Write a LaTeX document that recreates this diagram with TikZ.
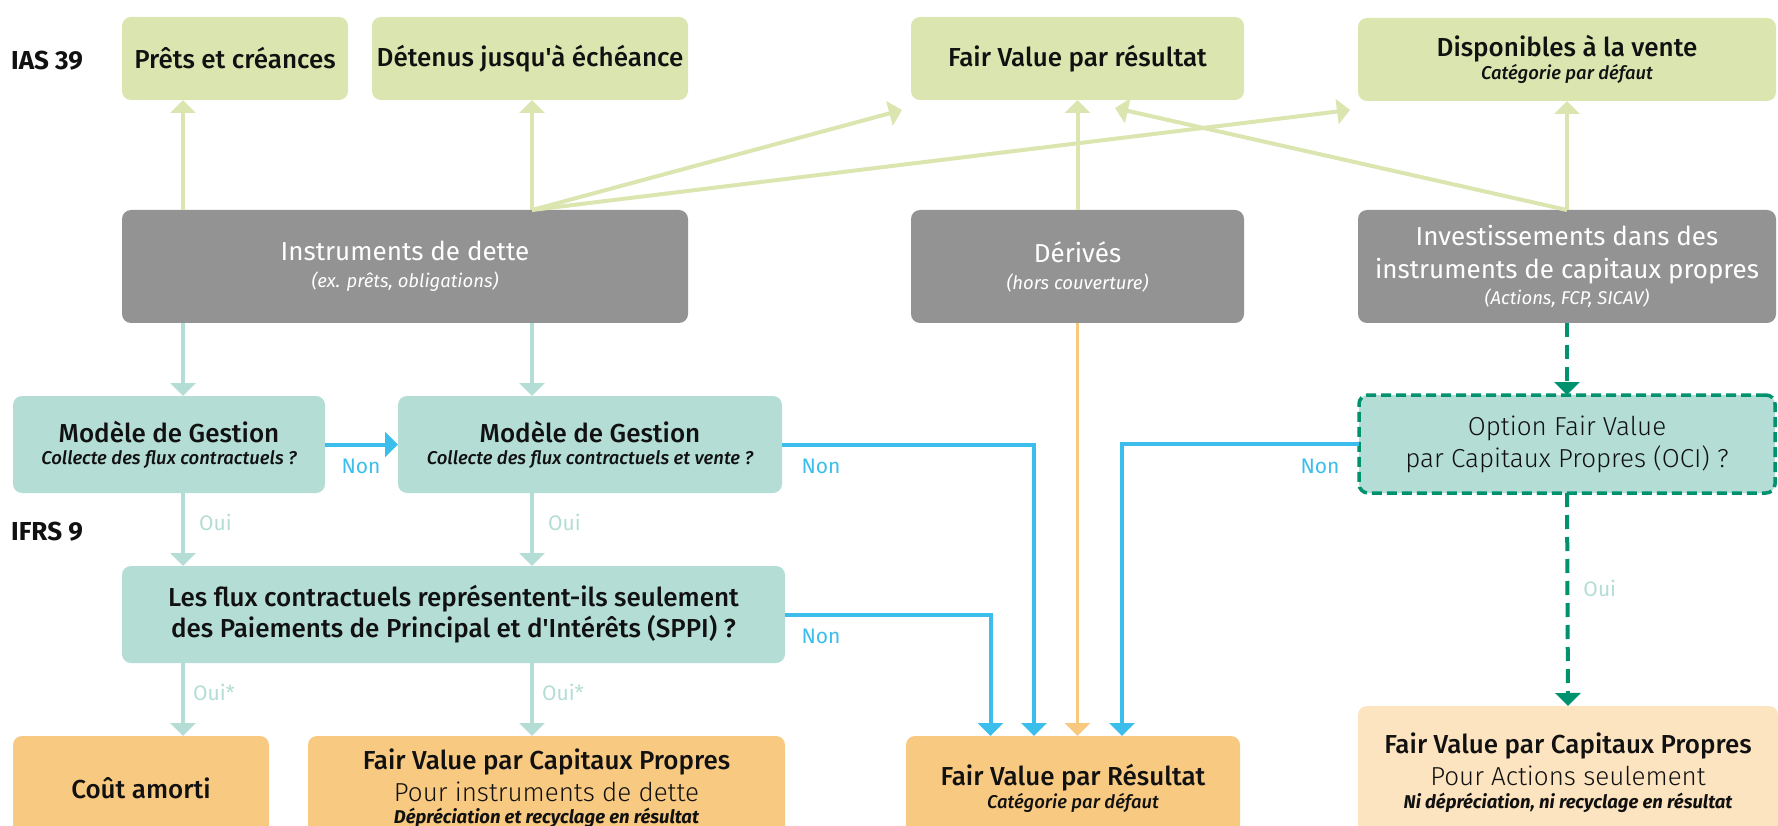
\documentclass[tikz,border=0pt]{standalone}
\usepackage{fontspec}
\setmainfont{Fira Sans}
\newfontfamily\fmed{Fira Sans Medium}
\newfontfamily\flight{Fira Sans Light}
\usetikzlibrary{arrows.meta}
\definecolor{iasg}{HTML}{DAE5B0}
\definecolor{greyc}{HTML}{939393}
\definecolor{tealc}{HTML}{B3DDD5}
\definecolor{orc}{HTML}{F8C980}
\definecolor{lorc}{HTML}{FDE4C0}
\definecolor{bluec}{HTML}{3BBEEC}
\definecolor{orline}{HTML}{F7C87E}
\definecolor{dgreen}{HTML}{00916F}
\definecolor{txt}{HTML}{111111}
\newcommand\bxTitle{\fmed\fontsize{26}{0}\selectfont}
\newcommand\bxReg{\fontsize{26}{0}\selectfont}
\newcommand\bxLight{\flight\fontsize{26}{0}\selectfont}
\newcommand\bxIt{\fontsize{18.5}{0}\selectfont\itshape}
\newcommand\bxMedIt{\fmed\fontsize{18.5}{0}\selectfont\itshape}
\newcommand\bxBoldIt{\bfseries\fontsize{18.5}{0}\selectfont\itshape}
\tikzset{
  box/.style={rounded corners=9pt, inner sep=0pt, outer sep=0pt, align=center, text=txt,
    font={\fontsize{26}{0}\selectfont\lineskiplimit=-1000pt\lineskip=0pt}},
  iasbox/.style={box, fill=iasg, minimum height=83pt},
  greybox/.style={box, fill=greyc, text=white, minimum height=113pt},
  tealbox/.style={box, fill=tealc, minimum height=97pt},
  ocibox/.style={box, fill=tealc, draw=dgreen, line width=3.5pt, dash pattern=on 10pt off 5pt, minimum height=98pt},
  orbox/.style={box, fill=orc},
  lorbox/.style={box, fill=lorc},
  tip/.style={-{Triangle[width=25pt,length=13pt]}},
  gline/.style={tip, draw=iasg, line width=4pt},
  tline/.style={tip, draw=tealc, line width=4pt},
  bline/.style={tip, draw=bluec, line width=4pt},
  oline/.style={tip, draw=orline, line width=3pt},
  dline/.style={tip, draw=dgreen, line width=4pt, dash pattern=on 14pt off 8pt},
  nonlbl/.style={text=bluec, font=\fontsize{21}{22}\selectfont, inner sep=0pt},
  ouilbl/.style={text=tealc, font=\fontsize{21}{22}\selectfont, inner sep=0pt, anchor=west},
  stdlbl/.style={text=txt, font=\bfseries\fontsize{26}{22}\selectfont, inner sep=0pt, anchor=west},
}
\begin{document}
\begin{tikzpicture}[x=1pt,y=-1pt]
\useasboundingbox (0,0) rectangle (1778,826);
% column guides
\coordinate (c1) at (183,0);
\coordinate (c2) at (532,0);
\coordinate (xb1) at (990.5,0);
\coordinate (xb2) at (1034,0);
\coordinate (xb3) at (1122,0);
\coordinate (tA) at (902,110);
\coordinate (tB) at (1350,110);
\coordinate (tC) at (1115,108);

% standard labels
\node[stdlbl] (ias) at (11,61) {IAS 39};
\node[stdlbl] (ifrs) at (11,532) {IFRS 9};

% IAS 39 categories
\node[iasbox, minimum width=226pt] (prets) at (235,58.5) {\bxTitle Prêts et créances};
\node[iasbox, minimum width=316pt] (detenus) at (530,58.5) {\bxTitle Détenus jusqu'à échéance};
\node[iasbox, minimum width=333pt] (fvr) at (1077.5,58.5) {\bxTitle Fair Value par résultat};
\node[iasbox, minimum width=418pt] (dispo) at (1567,59.5) {\bxTitle Disponibles à la vente\\[23pt] \bxMedIt Catégorie par défaut};

% instruments
\node[greybox, minimum width=566pt] (instr) at (405,266.5) {\bxReg Instruments de dette\\[27pt] \bxIt (ex. prêts, obligations)};
\node[greybox, minimum width=333pt] (derives) at (1077.5,266.5) {\bxReg Dérivés\\[27pt] \bxIt (hors couverture)};
\node[greybox, minimum width=418pt] (invest) at (1567,266.5) {\bxReg Investissements dans des\\[33pt] \bxReg instruments de capitaux propres\\[26pt] \bxIt (Actions, FCP, SICAV)};

% IFRS 9 questions
\node[tealbox, minimum width=312pt] (mod1) at (169,444.5) {\bxTitle Modèle de Gestion\\[22pt] \bxMedIt Collecte des flux contractuels ?};
\node[tealbox, minimum width=384pt] (mod2) at (590,444.5) {\bxTitle Modèle de Gestion\\[22pt] \bxMedIt Collecte des flux contractuels et vente ?};
\node[tealbox, minimum width=663pt] (sppi) at (453.5,614.5) {\bxTitle Les flux contractuels représentent-ils seulement\\[31pt] \bxTitle des Paiements de Principal et d'Intérêts (SPPI) ?};
\node[ocibox, minimum width=416pt] (oci) at (1567,444) {\bxLight Option Fair Value\\[32pt] \bxLight par Capitaux Propres (OCI) ?};

% IFRS 9 outcomes
\node[orbox, minimum width=256pt, minimum height=104pt] (cout) at (141,788) {\bxTitle Coût amorti};
\node[orbox, minimum width=477pt, minimum height=104pt] (fvcp) at (546.5,788) {\bxTitle Fair Value par Capitaux Propres\\[32pt] \bxLight Pour instruments de dette\\[22pt] \bxBoldIt Dépréciation et recyclage en résultat};
\node[orbox, minimum width=334pt, minimum height=104pt] (fvres) at (1073,788) {\bxTitle Fair Value par Résultat\\[23pt] \bxMedIt Catégorie par défaut};
\node[lorbox, minimum width=420pt, minimum height=134pt] (fvcpa) at (1568,773) {\bxTitle Fair Value par Capitaux Propres\\[32pt] \bxLight Pour Actions seulement\\[23pt] \bxBoldIt Ni dépréciation, ni recyclage en résultat};

% IAS 39 arrows
\draw[gline] (instr.north -| c1) -- (prets.south -| c1);
\draw[gline] (instr.north -| c2) -- (detenus.south -| c2);
\draw[gline] (instr.north -| c2) -- (tA);
\draw[gline] (instr.north -| c2) -- (tB);
\draw[gline] (derives.north) -- (fvr.south);
\draw[gline] (invest.north) -- (dispo.south);
\draw[gline] (invest.north) -- (tC);

% IFRS 9 teal arrows
\draw[tline] (instr.south -| c1) -- (mod1.north -| c1);
\draw[tline] (instr.south -| c2) -- (mod2.north -| c2);
\draw[tline] (mod1.south -| c1) -- node[ouilbl, pos=0.4, xshift=14pt] (oui1) {Oui} (sppi.north -| c1);
\draw[tline] (mod2.south -| c2) -- node[ouilbl, pos=0.4, xshift=14pt] (oui2) {Oui} (sppi.north -| c2);
\draw[tline] (sppi.south -| c1) -- node[ouilbl, pos=0.4, xshift=8pt] (oui3) {Oui*} (cout.north -| c1);
\draw[tline] (sppi.south -| c2) -- node[ouilbl, pos=0.4, xshift=8pt] (oui4) {Oui*} (fvcp.north -| c2);

% blue "Non" arrows
\draw[bline] (mod1.east) -- (mod2.west);
\node[nonlbl] (non1) at (361,466) {Non};
\draw[bline] (mod2.east) -| (fvres.north -| xb2);
\node[nonlbl] (non2) at (821,466) {Non};
\draw[bline] (sppi.east) -| (fvres.north -| xb1);
\node[nonlbl] (non3) at (821,636) {Non};
\draw[bline] (oci.west) -| (fvres.north -| xb3);
\node[nonlbl] (non4) at (1320,466) {Non};

% derivatives
\draw[oline] (derives.south) -- (derives.south |- fvres.north);

% equity option
\draw[dline] (invest.south) -- (oci.north);
\draw[dline] (oci.south) -- node[ouilbl, pos=0.45, xshift=14pt] (oui5) {Oui} (fvcpa.north);
\end{tikzpicture}
\end{document}
